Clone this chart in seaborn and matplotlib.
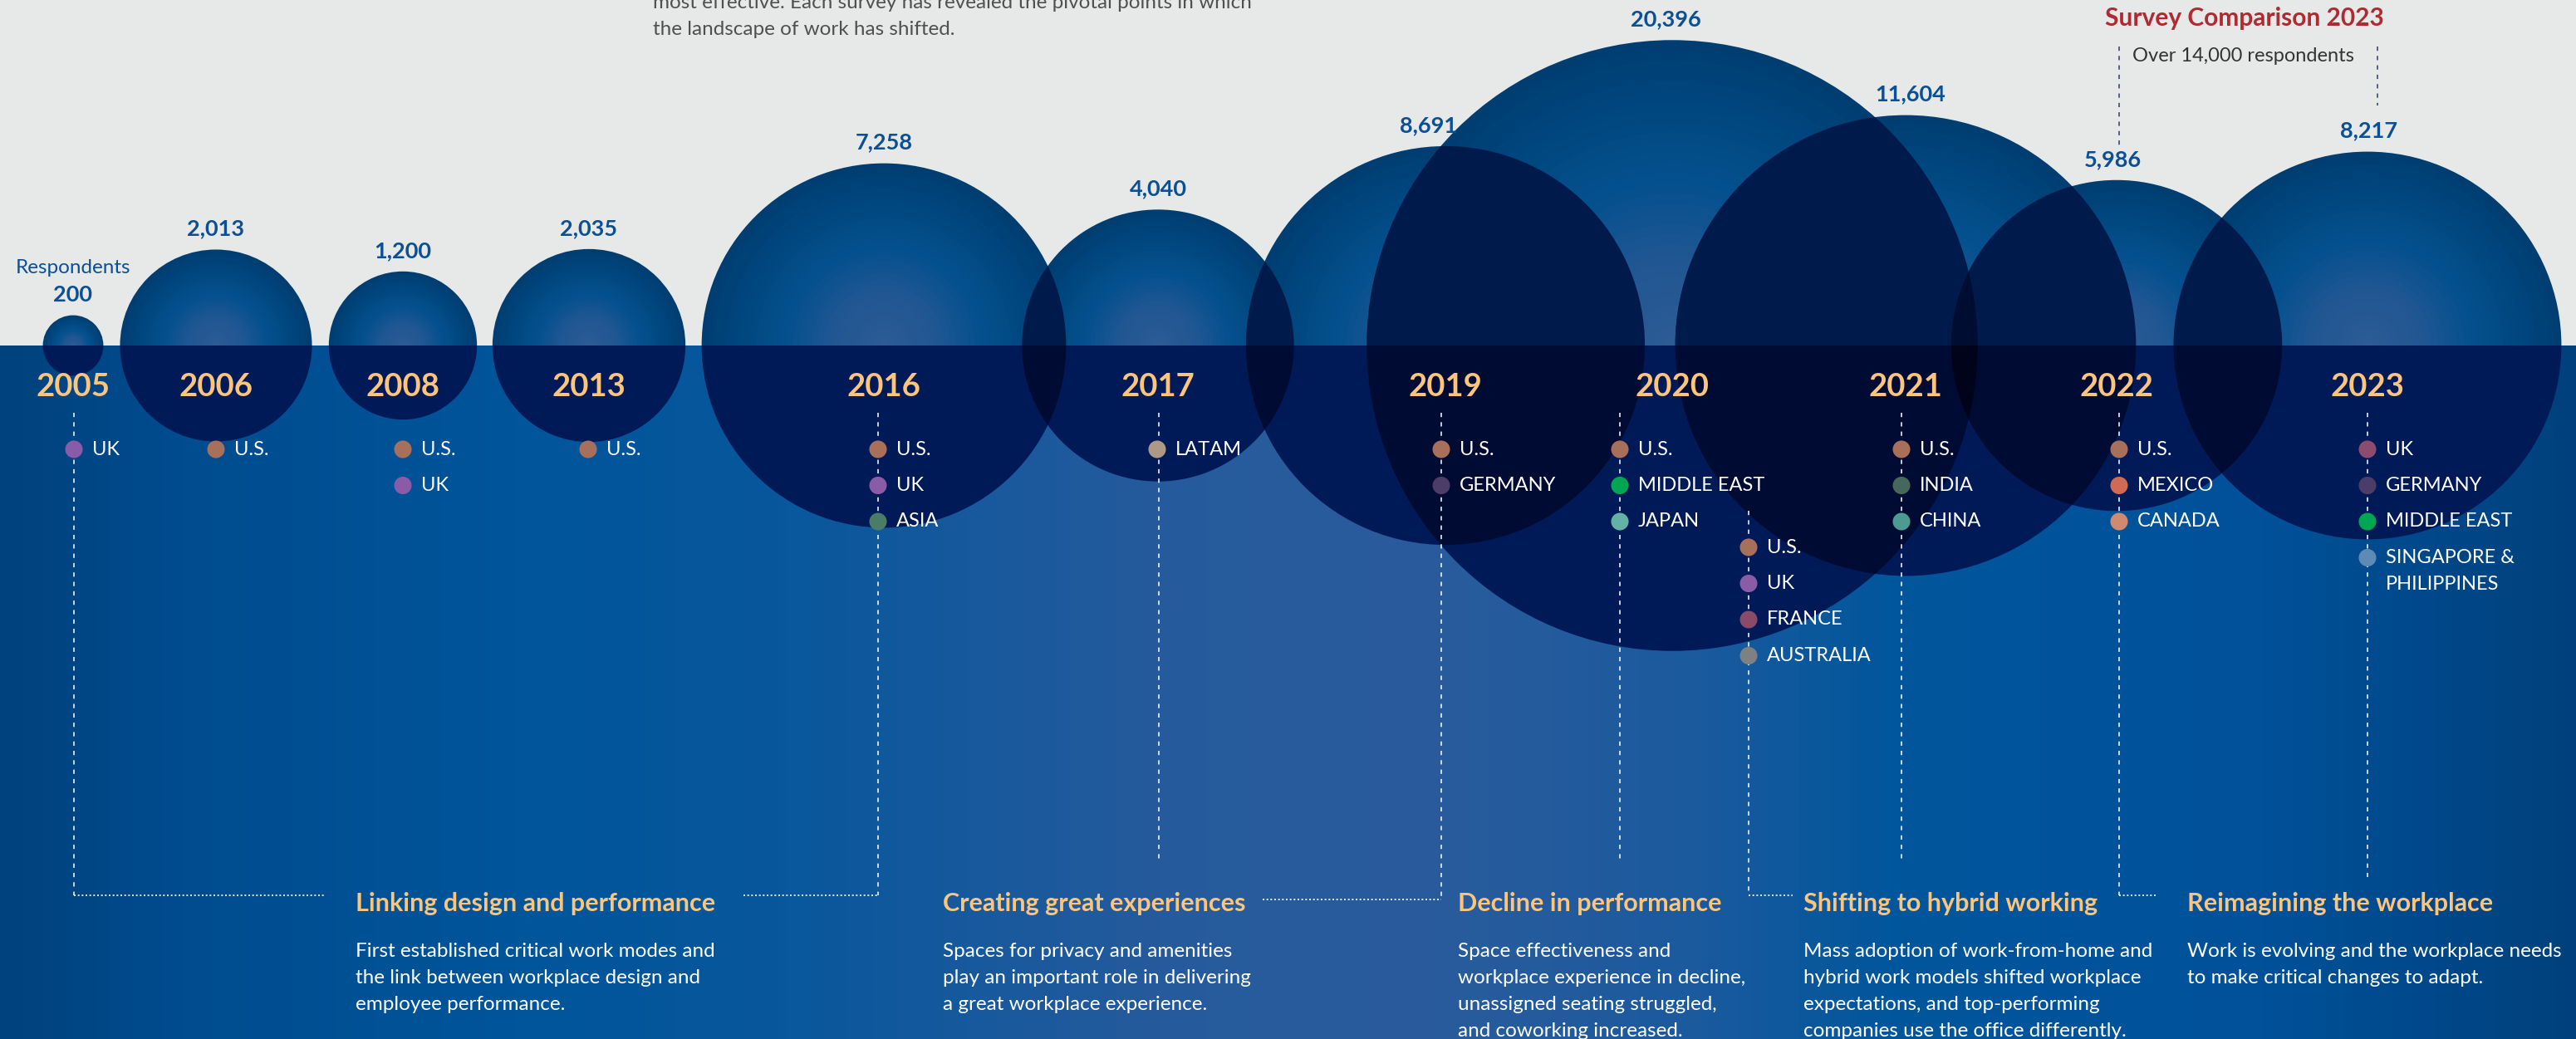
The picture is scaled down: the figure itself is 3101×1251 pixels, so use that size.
import numpy as np
import pandas as pd
import matplotlib.pyplot as plt
import seaborn as sns
from matplotlib.patches import Circle, Wedge, Rectangle
from matplotlib.colors import LinearSegmentedColormap

# Survey data

years = ['2005', '2006', '2008', '2013', '2016', '2017', '2019', '2020', '2021', '2022', '2023']
respondents = [200, 2013, 1200, 2035, 7258, 4040, 8691, 20396, 11604, 5986, 8217]

# one column of regions per survey (2020 has two columns)
region_year = ['2005', '2006', '2008', '2013', '2016', '2017', '2019', '2020', '2020', '2021', '2022', '2023']
regions = [
    ['UK'],
    ['U.S.'],
    ['U.S.', 'UK'],
    ['U.S.'],
    ['U.S.', 'UK', 'ASIA'],
    ['LATAM'],
    ['U.S.', 'GERMANY'],
    ['U.S.', 'MIDDLE EAST', 'JAPAN'],
    ['U.S.', 'UK', 'FRANCE', 'AUSTRALIA'],
    ['U.S.', 'INDIA', 'CHINA'],
    ['U.S.', 'MEXICO', 'CANADA'],
    ['UK', 'GERMANY', 'MIDDLE EAST', 'SINGAPORE &\nPHILIPPINES'],
]
region_colors = [
    ['#8a5ca8'],
    ['#a8705a'],
    ['#a8705a', '#8a5ca8'],
    ['#a8705a'],
    ['#a8705a', '#8a5ca8', '#4a7c68'],
    ['#ad9986'],
    ['#a8705a', '#4c3c68'],
    ['#a8705a', '#00a651', '#62b3a6'],
    ['#a8705a', '#8a5ca8', '#8a4a6a', '#7f8083'],
    ['#a8705a', '#46685a', '#4d9a92'],
    ['#a8705a', '#d06a55', '#d08a70'],
    ['#8c4c70', '#4c3c68', '#00a651', '#5f8ab5'],
]

era_titles = ['Linking design and performance', 'Creating great experiences',
              'Decline in performance', 'Shifting to hybrid working',
              'Reimagining the workplace']
era_text = [
    ['First established critical work modes and', 'the link between workplace design and',
     'employee performance.'],
    ['Spaces for privacy and amenities', 'play an important role in delivering',
     'a great workplace experience.'],
    ['Space effectiveness and', 'workplace experience in decline,',
     'unassigned seating struggled,', 'and coworking increased.'],
    ['Mass adoption of work-from-home and', 'hybrid work models shifted workplace',
     'expectations, and top-performing', 'companies use the office differently.'],
    ['Work is evolving and the workplace needs', 'to make critical changes to adapt.'],
]

intro_lines = ['most effective. Each survey has revealed the pivotal points in which',
               'the landscape of work has shifted.']

# Layout (pixels)

W, H = 3101, 1251
HORIZON = 416
K = 2.575  # bubble radius = K * sqrt(respondents)
bubble_x = [88, 260, 485, 709, 1064, 1394, 1740, 2013, 2294, 2548, 2850]
value_x = [88, 260, 485, 709, 1064, 1394, 1720, 2005, 2300, 2543, 2852]
col_x = [89, 260, 485, 708, 1057, 1393, 1735, 1950, 2105, 2289, 2551, 2850]
col_y0 = [541, 541, 541, 541, 541, 541, 541, 541, 659, 541, 541, 541]
ROW = 43.5
era_x = [428, 1135, 1755, 2171, 2633]

sns.set_theme(style='white')
plt.rcParams['font.family'] = ['Lato', 'DejaVu Sans']

fig = plt.figure(figsize=(W / 100, H / 100), dpi=100)
ax = fig.add_axes([0, 0, 1, 1])

# backgrounds
ax.add_patch(Rectangle((0, 0), W, HORIZON, color='#e7e9e8', lw=0, zorder=0))
bg_cmap = LinearSegmentedColormap.from_list('bg', [
    (0.0, '#00427e'), (0.07, '#004c8f'), (0.2, '#00559b'), (0.3, '#08579c'),
    (0.45, '#255b9c'), (0.55, '#2a5c9c'), (0.66, '#1b5a9e'), (0.74, '#00569c'),
    (0.88, '#00519a'), (1.0, '#00417d')])
ax.imshow(np.linspace(0, 1, 600)[None, :], cmap=bg_cmap, aspect='auto',
          extent=[0, W, H, HORIZON], zorder=0)

# bubbles
top_cmap = LinearSegmentedColormap.from_list('top', [
    (0.0, '#2e5b94'), (0.3, '#205793'), (0.55, '#04508e'), (0.8, '#00477f'), (1.0, '#003e72')])
radii = [K * np.sqrt(n) for n in respondents]

for cx, r in zip(bubble_x, radii):
    for t in np.linspace(1, 0.03, 30):
        ax.add_patch(Wedge((cx, HORIZON), r * t, 180, 360, color=top_cmap(t), lw=0, zorder=2))
    ax.add_patch(Wedge((cx, HORIZON), r, 0, 180, color='#001a57', lw=0, zorder=2))


def inside(px, py, k):
    return (px - bubble_x[k]) ** 2 + (py - HORIZON) ** 2 < radii[k] ** 2


# overlapping bubbles get darker (multiply look)
for i in range(len(years)):
    for j in range(i + 1, len(years)):
        d = bubble_x[j] - bubble_x[i]
        ri, rj = radii[i], radii[j]
        if d >= ri + rj:
            continue
        a = (d ** 2 + ri ** 2 - rj ** 2) / (2 * d)
        h = np.sqrt(max(ri ** 2 - a ** 2, 0))
        pts = [(bubble_x[i] + a, HORIZON - h), (bubble_x[i] + a, HORIZON + h),
               (bubble_x[j] - rj, HORIZON), (bubble_x[i] + ri, HORIZON)]
        triple = any(all(inside(px, py, k) for px, py in pts)
                     for k in range(len(years)) if k not in (i, j))
        up_c, dn_c, z = ('#000d33', '#00031a', 4) if triple else ('#001a4b', '#000b33', 3)
        for th1, th2, c in [(180, 360, up_c), (0, 180, dn_c)]:
            w = Wedge((bubble_x[j], HORIZON), rj, th1, th2, color=c, lw=0, zorder=z)
            ax.add_patch(w)
            w.set_clip_path(Circle((bubble_x[i], HORIZON), ri, transform=ax.transData))

# value and year labels
for cx, vx, r, yr, n in zip(bubble_x, value_x, radii, years, respondents):
    ax.text(vx, HORIZON - r - 25, f'{n:,}', ha='center', va='center',
            color='#0b4f94', fontsize=19.5, fontweight='bold', zorder=7)
    ax.text(cx, 466, yr, ha='center', va='center', color='#fdc57b',
            fontsize=27.5, fontweight='bold', zorder=7)
ax.text(bubble_x[0], HORIZON - radii[0] - 57, 'Respondents', ha='center', va='center',
        color='#0b4f94', fontsize=17.5, zorder=7)

# dashed timeline connectors
dash = dict(color='white', lw=1.1, dashes=(3.4, 4), zorder=5)
dot = dict(color='white', lw=1.2, dashes=(1.2, 1.6), zorder=5)
vlines = [(89, 497, 1078), (1057, 497, 1078), (1395, 497, 1036), (1735, 497, 1083),
          (1950, 497, 1036), (2105, 615, 1078), (2289, 497, 1036), (2551, 497, 1078),
          (2850, 497, 1056)]
for x, y0, y1 in vlines:
    ax.plot([x, x], [y0, y1], **dash)
hlines = [(89, 391, 1078), (895, 1057, 1078), (1520, 1735, 1083),
          (2105, 2158, 1078), (2551, 2597, 1078)]
for x0, x1, y in hlines:
    ax.plot([x0, x1], [y, y], **dot)

# region dots
rows = []
for k, (cols, colors) in enumerate(zip(regions, region_colors)):
    for m, (name, c) in enumerate(zip(cols, colors)):
        rows.append({'x': col_x[k], 'y': col_y0[k] + m * ROW, 'region': name, 'color': c})
dots = pd.DataFrame(rows)
sns.scatterplot(data=dots, x='x', y='y', hue='color',
                palette={c: c for c in dots['color'].unique()},
                s=230, linewidth=0, legend=False, ax=ax, zorder=6)
for _, row in dots.iterrows():
    for li, line in enumerate(row['region'].split('\n')):
        ax.text(row['x'] + 22, row['y'] + li * 32, line, ha='left', va='center',
                color='white', fontsize=17, zorder=7)

# era captions
for x, title, lines in zip(era_x, era_titles, era_text):
    ax.text(x, 1088, title, ha='left', va='center', color='#fdc57b',
            fontsize=22, fontweight='bold', zorder=7)
    for li, line in enumerate(lines):
        ax.text(x, 1145 + li * 32, line, ha='left', va='center', color='white',
                fontsize=17.5, zorder=7)

# header texts
for li, line in enumerate(intro_lines):
    ax.text(786, 4 + li * 32, line, ha='left', va='center', color='#505050',
            fontsize=17.5, zorder=7)
ax.text(2702, 22, 'Survey Comparison 2023', ha='center', va='center', color='#b02a32',
        fontsize=21.5, fontweight='bold', zorder=7)
ax.text(2567, 68, 'Over 14,000 respondents', ha='left', va='center', color='#333333',
        fontsize=17, zorder=7)
nav = dict(color='#2d3a66', lw=1.1, dashes=(3.4, 4), zorder=5)
ax.plot([2551, 2551], [56, 176], **nav)
ax.plot([2862, 2862], [56, 127], **nav)

ax.set_xlim(0, W)
ax.set_ylim(H, 0)
ax.axis('off')
fig.savefig('out.png', dpi=100)
